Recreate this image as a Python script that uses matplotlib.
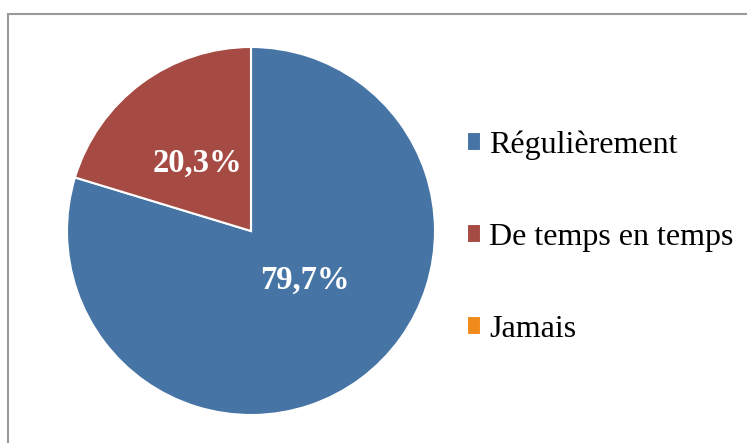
import numpy as np
import matplotlib
matplotlib.use("Agg")
import matplotlib.pyplot as plt
from matplotlib.patches import Rectangle

categories = ["Régulièrement", "De temps en temps", "Jamais"]
values = [79.7, 20.3, 0.0]
colors = ["#4674A5", "#A64B44", "#F08A1A"]

plt.rcParams['font.family'] = ['Liberation Serif', 'DejaVu Serif']

W, H = 747, 443
fig = plt.figure(figsize=(W / 100, H / 100), dpi=100)

# pie axes: centre (251, 231) px, radius 184 px
cx, cy, r = 251, 231, 184
ax = fig.add_axes([(cx - r) / W, 1 - (cy + r) / H, 2 * r / W, 2 * r / H])

wedges, _ = ax.pie(values, colors=colors, startangle=90, counterclock=False,
                   wedgeprops=dict(edgecolor="white", linewidth=1.5))
ax.set_xlim(-1, 1)
ax.set_ylim(-1, 1)
ax.set_aspect("equal")
ax.axis("off")

# percentage labels inside wedges
label_dist = [0.40, 0.47, 0.5]
label_shift = [11, 2, 0]  # degrees
for w, v, d, s in zip(wedges, values, label_dist, label_shift):
    if v <= 0:
        continue
    ang = np.deg2rad((w.theta1 + w.theta2) / 2 + s)
    ax.text(d * np.cos(ang), d * np.sin(ang), f"{v:.1f}%".replace(".", ","),
            ha="center", va="center", color="white", fontsize=23.5, fontweight="bold")

fig.legend(wedges, categories, loc="center left",
           bbox_to_anchor=(467 / W, 1 - 237 / H), frameon=False,
           fontsize=23, labelspacing=1.97, handlelength=0.45, handleheight=0.55,
           handletextpad=0.25, borderpad=0, borderaxespad=0)

# chart area border (open at right and bottom)
fig.patches.append(Rectangle((7.5 / W, -0.2), 2.0, 1 - 13.5 / H + 0.2,
                             transform=fig.transFigure, fill=False,
                             edgecolor="#9a9a9a", linewidth=1.5))

fig.savefig("out.png", dpi=100)
